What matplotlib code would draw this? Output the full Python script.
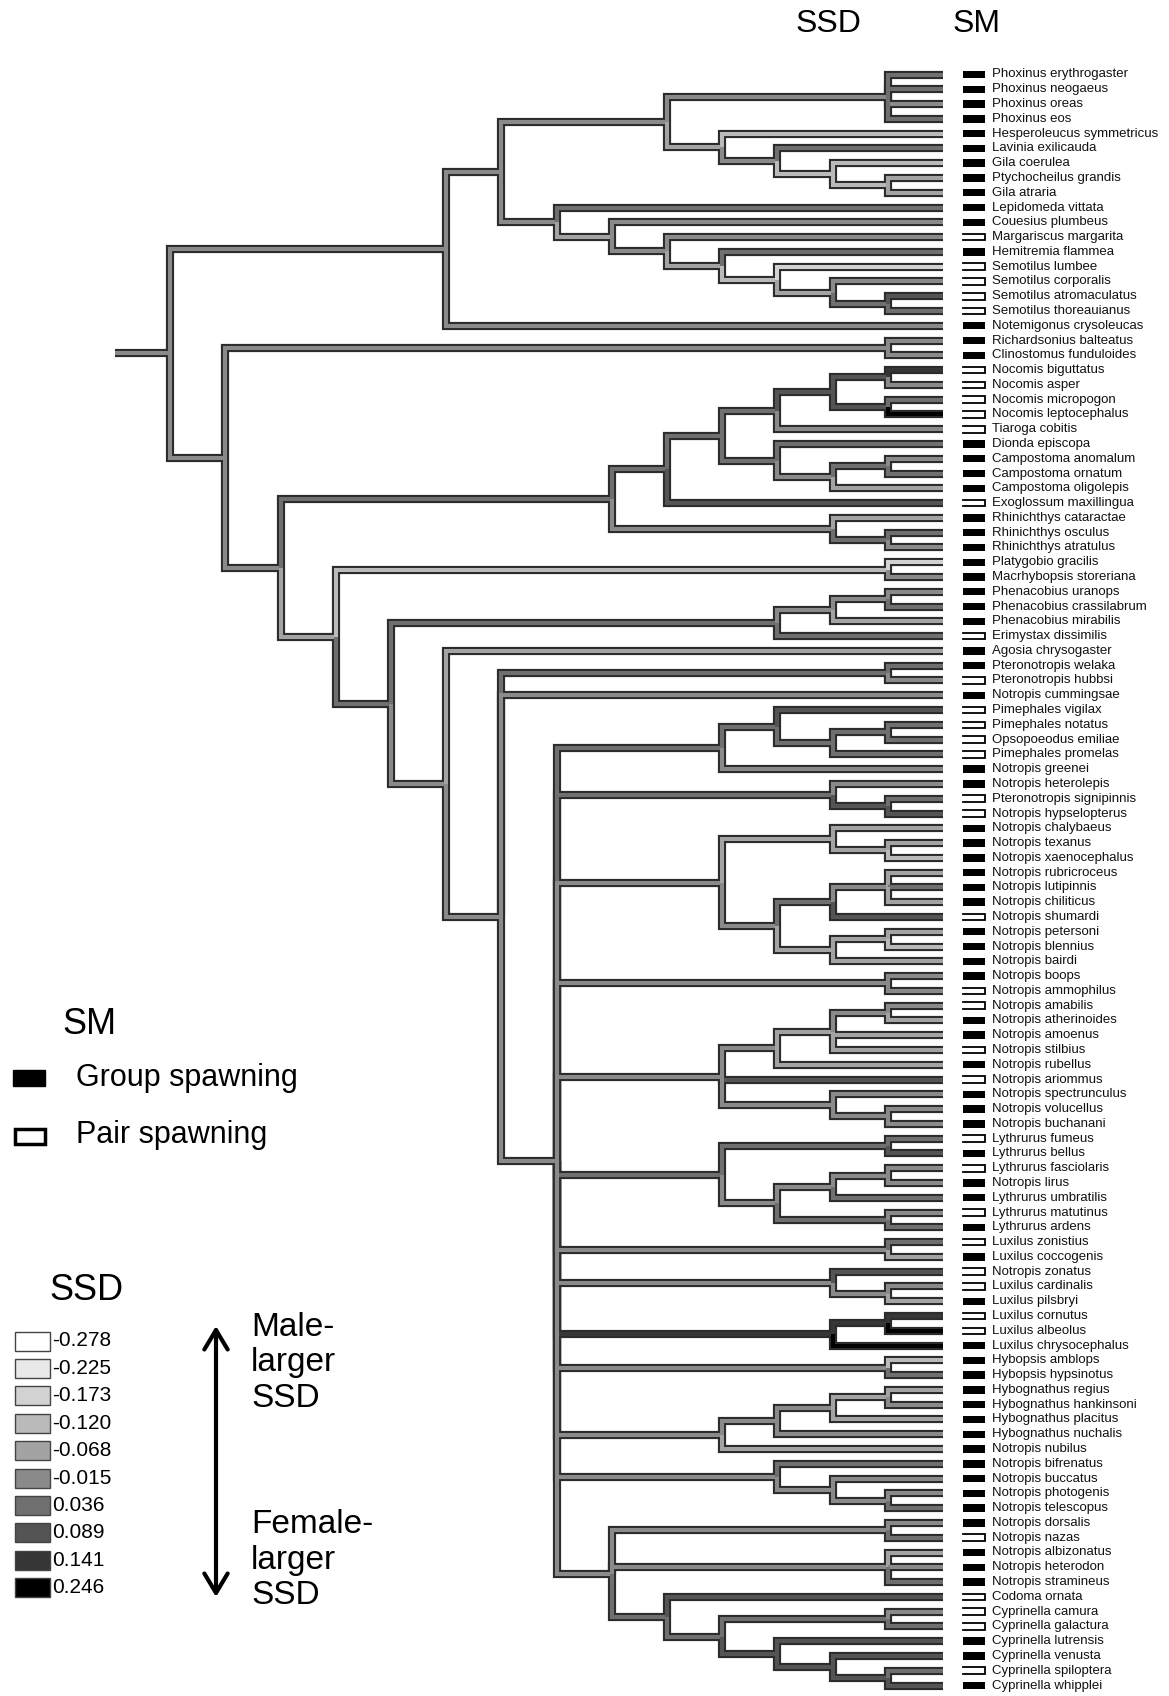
import numpy as np
import matplotlib
matplotlib.use("Agg")
import matplotlib.pyplot as plt
from matplotlib.collections import LineCollection
from matplotlib.patches import Rectangle

plt.rcParams['font.family'] = ['Liberation Sans', 'DejaVu Sans']

species = [
    'Phoxinus erythrogaster', 'Phoxinus neogaeus', 'Phoxinus oreas', 'Phoxinus eos',
    'Hesperoleucus symmetricus', 'Lavinia exilicauda', 'Gila coerulea', 'Ptychocheilus grandis', 'Gila atraria',
    'Lepidomeda vittata', 'Couesius plumbeus', 'Margariscus margarita', 'Hemitremia flammea',
    'Semotilus lumbee', 'Semotilus corporalis', 'Semotilus atromaculatus', 'Semotilus thoreauianus',
    'Notemigonus crysoleucas', 'Richardsonius balteatus', 'Clinostomus funduloides',
    'Nocomis biguttatus', 'Nocomis asper', 'Nocomis micropogon', 'Nocomis leptocephalus', 'Tiaroga cobitis',
    'Dionda episcopa', 'Campostoma anomalum', 'Campostoma ornatum', 'Campostoma oligolepis', 'Exoglossum maxillingua',
    'Rhinichthys cataractae', 'Rhinichthys osculus', 'Rhinichthys atratulus', 'Platygobio gracilis', 'Macrhybopsis storeriana',
    'Phenacobius uranops', 'Phenacobius crassilabrum', 'Phenacobius mirabilis', 'Erimystax dissimilis', 'Agosia chrysogaster',
    'Pteronotropis welaka', 'Pteronotropis hubbsi', 'Notropis cummingsae', 'Pimephales vigilax', 'Pimephales notatus',
    'Opsopoeodus emiliae', 'Pimephales promelas', 'Notropis greenei', 'Notropis heterolepis', 'Pteronotropis signipinnis',
    'Notropis hypselopterus', 'Notropis chalybaeus', 'Notropis texanus', 'Notropis xaenocephalus', 'Notropis rubricroceus',
    'Notropis lutipinnis', 'Notropis chiliticus', 'Notropis shumardi', 'Notropis petersoni', 'Notropis blennius',
    'Notropis bairdi', 'Notropis boops', 'Notropis ammophilus', 'Notropis amabilis', 'Notropis atherinoides',
    'Notropis amoenus', 'Notropis stilbius', 'Notropis rubellus', 'Notropis ariommus', 'Notropis spectrunculus',
    'Notropis volucellus', 'Notropis buchanani', 'Lythrurus fumeus', 'Lythrurus bellus', 'Lythrurus fasciolaris',
    'Notropis lirus', 'Lythrurus umbratilis', 'Lythrurus matutinus', 'Lythrurus ardens', 'Luxilus zonistius',
    'Luxilus coccogenis', 'Notropis zonatus', 'Luxilus cardinalis', 'Luxilus pilsbryi', 'Luxilus cornutus',
    'Luxilus albeolus', 'Luxilus chrysocephalus', 'Hybopsis amblops', 'Hybopsis hypsinotus', 'Hybognathus regius',
    'Hybognathus hankinsoni', 'Hybognathus placitus', 'Hybognathus nuchalis', 'Notropis nubilus', 'Notropis bifrenatus',
    'Notropis buccatus', 'Notropis photogenis', 'Notropis telescopus', 'Notropis dorsalis', 'Notropis nazas',
    'Notropis albizonatus', 'Notropis heterodon', 'Notropis stramineus', 'Codoma ornata', 'Cyprinella camura',
    'Cyprinella galactura', 'Cyprinella lutrensis', 'Cyprinella venusta', 'Cyprinella spiloptera', 'Cyprinella whipplei',
]

# spawning mode, G = group spawning, P = pair spawning (same order as species)
sm = list("GGGGGGGGGG GPGPPPPGGG PPPPPGGGGP GGGGGGGGPG GPGPPPPGGP "
          "PGGGGGGPGG GGPPGGPGPG GGPGPGGPGP GPPGPPGGGG GGGGGGGGGP "
          "GGGPPPGGPG".replace(" ", ""))

ssd_values = ['-0.278', '-0.225', '-0.173', '-0.120', '-0.068', '-0.015', '0.036', '0.089', '0.141', '0.246']
ssd_colors = ['#ffffff', '#e9e9e9', '#d2d2d2', '#bababa', '#a3a3a3',
              '#8a8a8a', '#6f6f6f', '#545454', '#363636', '#000000']

# clades: tip numbers index species (1-based), ":k" = SSD class of the branch
phoxinus_gila = "((1:6,2:6,3:5,4:6):5,(5:3,(6:6,(7:3,(8:4,9:4):3):3):5):4)"
semotilus = "(10:6,(11:5,(12:5,(13:6,(14:2,(15:5,(16:7,17:6):6):4):3):4):5):4)"
clade_a = "((" + phoxinus_gila + ":5," + semotilus + ":5):5,18:5)"
nocomis_tiaroga = "((((21:8,22:5):7,(23:6,24:9):7):7,25:5):6,(26:6,((27:5,28:6):6,29:4):5):6)"
nocomis = "((" + nocomis_tiaroga + ":6,30:7):6,(31:4,(32:6,33:5):6):5)"
phenacobius = "(((36:5,37:6):5,38:4):5,39:6)"
shiners = [
    ("((44:7,((45:6,46:6):6,47:6):6):6,48:5)", 6),
    ("(49:5,(50:6,51:7):7)", 6),
    ("((52:4,(53:4,54:3):4):4,(((55:4,56:6,57:4):5,58:7):6,((59:4,60:3):4,61:4):4):5)", 5),
    ("(62:5,63:5)", 5),
    ("((((64:5,65:4):5,66:4,67:4):4,68:4):5,69:7,(70:5,(71:5,72:5):5):5)", 5),
    ("((73:6,74:7):6,(((75:5,76:5):5,77:6):5,(78:5,79:6):6):5)", 6),
    ("(80:6,81:4)", 5),
    ("(82:7,(83:5,84:4):5)", 5),
    ("((85:8,86:9):8,87:9)", 8),
    ("(88:3,89:6)", 5),
    ("((((90:4,91:5):4,92:4):5,93:5):5,94:4)", 5),
    ("(95:6,(96:5,(97:5,98:6):5):5)", 5),
    ("((99:5,100:6):5,(101:4,102:5,103:6):5,"
     "(104:7,((105:5,106:6):6,(107:7,(108:7,(109:6,110:7):7):7):7):6):6)", 5),
]
h7 = "(" + ",".join(c + ":" + str(k) for c, k in shiners) + ")"
h8 = "((41:6,42:5):6,43:5," + h7 + ":5)"
h9 = "(40:4," + h8 + ":5)"
h10 = "(" + phenacobius + ":6," + h9 + ":5)"
h11 = "((34:2,35:5):3," + h10 + ":6)"
h12 = "(" + nocomis + ":6," + h11 + ":4)"
h13 = "((19:5,20:5):5," + h12 + ":5)"
tree = "(" + clade_a + ":5," + h13 + ":5):5"
assert tree.count("(") == tree.count(")")


def parse(s):
    pos = 0

    def node():
        nonlocal pos
        if s[pos] == '(':
            pos += 1
            kids = [node()]
            while s[pos] == ',':
                pos += 1
                kids.append(node())
            assert s[pos] == ')'
            pos += 1
            n = {'kids': kids}
        else:
            j = pos
            while s[pos].isdigit():
                pos += 1
            n = {'tip': int(s[j:pos])}
        if pos < len(s) and s[pos] == ':':
            pos += 1
            j = pos
            while pos < len(s) and s[pos].isdigit():
                pos += 1
            n['cls'] = int(s[j:pos])
        return n
    return node()


# layout in pixel space
x_tip, step = 943, 55.2
y0, dy = 74.5, 14.78


def layout(n):
    if 'tip' in n:
        n['h'] = 0
        n['y'] = y0 + dy * (n['tip'] - 1)
    else:
        for k in n['kids']:
            layout(k)
        n['h'] = 1 + max(k['h'] for k in n['kids'])
        n['y'] = (n['kids'][0]['y'] + n['kids'][-1]['y']) / 2
    n['x'] = x_tip - step * n['h']


root = parse(tree)
layout(root)

segs = [[(root['x'] - step, root['y']), (root['x'], root['y'])]]
cols = [ssd_colors[root['cls']]]


def edges(n):
    for k in n.get('kids', []):
        pts = [(n['x'], n['y']), (n['x'], k['y']), (k['x'], k['y'])]
        if abs(k['y'] - n['y']) < 1e-6:
            pts = pts[1:]
        segs.append(pts)
        cols.append(ssd_colors[k['cls']])
        edges(k)


edges(root)

fig = plt.figure(figsize=(11.69, 16.96), dpi=100)
ax = fig.add_axes([0, 0, 1, 1])
ax.set_xlim(0, 1169)
ax.set_ylim(1696, 0)
ax.axis('off')

ax.add_collection(LineCollection(segs, colors='#2c2c2c', linewidths=5.9,
                                 capstyle='butt', joinstyle='miter'))
ax.add_collection(LineCollection(segs, colors=cols, linewidths=2.9,
                                 capstyle='butt', joinstyle='miter'))

# tip labels and spawning mode
for i, name in enumerate(species):
    y = y0 + dy * i
    if sm[i] == 'G':
        ax.add_patch(Rectangle((963, y - 3.7), 22, 7.4, facecolor='black', edgecolor='none'))
    else:
        ax.plot([963, 985, 985, 963], [y - 3.3, y - 3.3, y + 3.3, y + 3.3],
                color='black', lw=1.3, solid_joinstyle='miter')
    ax.text(992, y, name, fontsize=9.5, va='center', ha='left', color='#111111')

ax.text(828, 24, 'SSD', fontsize=23, ha='center', va='center')
ax.text(977, 24, 'SM', fontsize=23, ha='center', va='center')

# SM legend
ax.text(62, 1025, 'SM', fontsize=26, ha='left', va='center')
ax.add_patch(Rectangle((13, 1070), 32, 16, facecolor='black', edgecolor='black'))
ax.text(76, 1078, 'Group spawning', fontsize=22, ha='left', va='center')
ax.add_patch(Rectangle((15, 1129), 30, 15, facecolor='white', edgecolor='black', lw=2.5))
ax.text(76, 1135, 'Pair spawning', fontsize=22, ha='left', va='center')

# SSD legend
ax.text(49, 1290, 'SSD', fontsize=26, ha='left', va='center')
for i, (val, col) in enumerate(zip(ssd_values, ssd_colors)):
    y = 1341 + 27.4 * i
    ax.add_patch(Rectangle((15, y - 9.5), 35, 19, facecolor=col, edgecolor='#444444', lw=1))
    ax.text(52, y, val, fontsize=15, ha='left', va='center')

ax.annotate('', xy=(216, 1326), xytext=(216, 1597),
            arrowprops=dict(arrowstyle='<->,head_length=0.5,head_width=0.3',
                            lw=3, color='black', mutation_scale=28,
                            shrinkA=0, shrinkB=0))
ax.text(251, 1363, 'Male-\nlarger\nSSD', fontsize=24, ha='left', va='center', linespacing=1.2)
ax.text(251, 1560, 'Female-\nlarger\nSSD', fontsize=24, ha='left', va='center', linespacing=1.2)

fig.savefig('out.png', dpi=100)
